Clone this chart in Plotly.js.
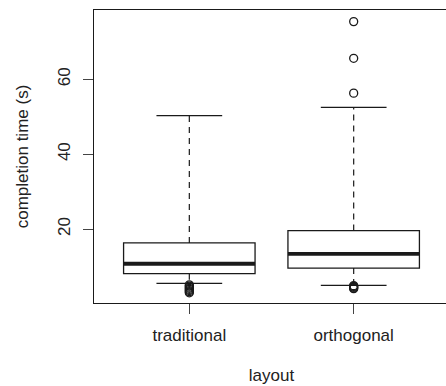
<!DOCTYPE html>
<html><head><meta charset="utf-8">
<script src="https://cdn.plot.ly/plotly-3.0.1.min.js"></script>
<style>html,body{margin:0;padding:0;overflow:hidden;background:#fff}#chart{width:452px;height:386px}</style>
</head><body><div id="chart"></div>
<script>
const categories = ['traditional', 'orthogonal'];
const positions = [1, 2];
const q1 = [8.1, 9.6];
const median = [10.75, 13.4];
const q3 = [16.3, 19.6];
const lowerWhisker = [5.5, 5.0];
const upperWhisker = [50.3, 52.5];
const outliersTraditional = [3.0, 3.3, 3.6, 3.9, 4.2, 4.5, 4.8, 5.1];
const outliersOrthogonal = [4.1, 4.3, 4.5, 4.7, 4.9, 56.3, 65.6, 75.4];
const yTicks = [20, 40, 60];

const ink = '#1a1a1a';
const boxHalf = 0.4, capHalf = 0.2;
const traces = [];

positions.forEach((p, i) => {
  traces.push({type: 'scatter', mode: 'lines', x: [p, p, null, p, p],
    y: [q3[i], upperWhisker[i], null, q1[i], lowerWhisker[i]],
    line: {color: ink, width: 1.2, dash: '6px,5px'}, hoverinfo: 'skip', showlegend: false});
});
positions.forEach((p, i) => {
  traces.push({type: 'box', x: [p], q1: [q1[i]], median: [median[i]], q3: [q3[i]],
    lowerfence: [q1[i]], upperfence: [q3[i]], width: boxHalf * 2, whiskerwidth: 0,
    boxpoints: false, fillcolor: '#ffffff', line: {color: ink, width: 1.3},
    hoverinfo: 'skip', showlegend: false});
});
positions.forEach((p, i) => {
  traces.push({type: 'scatter', mode: 'lines', x: [p - boxHalf, p + boxHalf], y: [median[i], median[i]],
    line: {color: ink, width: 3.8}, hoverinfo: 'skip', showlegend: false});
  traces.push({type: 'scatter', mode: 'lines',
    x: [p - capHalf, p + capHalf, null, p - capHalf, p + capHalf],
    y: [upperWhisker[i], upperWhisker[i], null, lowerWhisker[i], lowerWhisker[i]],
    line: {color: ink, width: 1.3}, hoverinfo: 'skip', showlegend: false});
});
[outliersTraditional, outliersOrthogonal].forEach((vals, i) => {
  traces.push({type: 'scatter', mode: 'markers', x: vals.map(() => positions[i]), y: vals,
    marker: {symbol: 'circle-open', size: 8, color: ink, line: {width: 1.3, color: ink}},
    hoverinfo: 'skip', showlegend: false});
});

const font = {family: 'Liberation Sans, Arial, sans-serif', size: 17, color: '#222'};
const layout = {
  width: 452, height: 386,
  margin: {l: 94, r: 3, t: 10, b: 83},
  paper_bgcolor: '#fff', plot_bgcolor: '#fff',
  font: font,
  showlegend: false,
  xaxis: {range: [0.42, 2.58], tickvals: positions, ticktext: categories,
    showgrid: false, zeroline: false, showline: true, mirror: true, linecolor: ink, linewidth: 1,
    ticks: 'outside', ticklen: 10, tickcolor: '#444', tickwidth: 1, tickfont: font,
    ticklabelstandoff: 7,
    title: {text: 'layout', font: font, standoff: 24}},
  yaxis: {range: [0.27, 78.5], tickvals: yTicks, tickangle: -90,
    showgrid: false, zeroline: false, showline: true, mirror: true, linecolor: ink, linewidth: 1,
    ticks: 'outside', ticklen: 10, tickcolor: '#444', tickwidth: 1, tickfont: font,
    ticklabelstandoff: 6,
    title: {text: 'completion time (s)', font: font, standoff: 22}}
};
Plotly.newPlot('chart', traces, layout, {staticPlot: true, displayModeBar: false});
</script></body></html>
